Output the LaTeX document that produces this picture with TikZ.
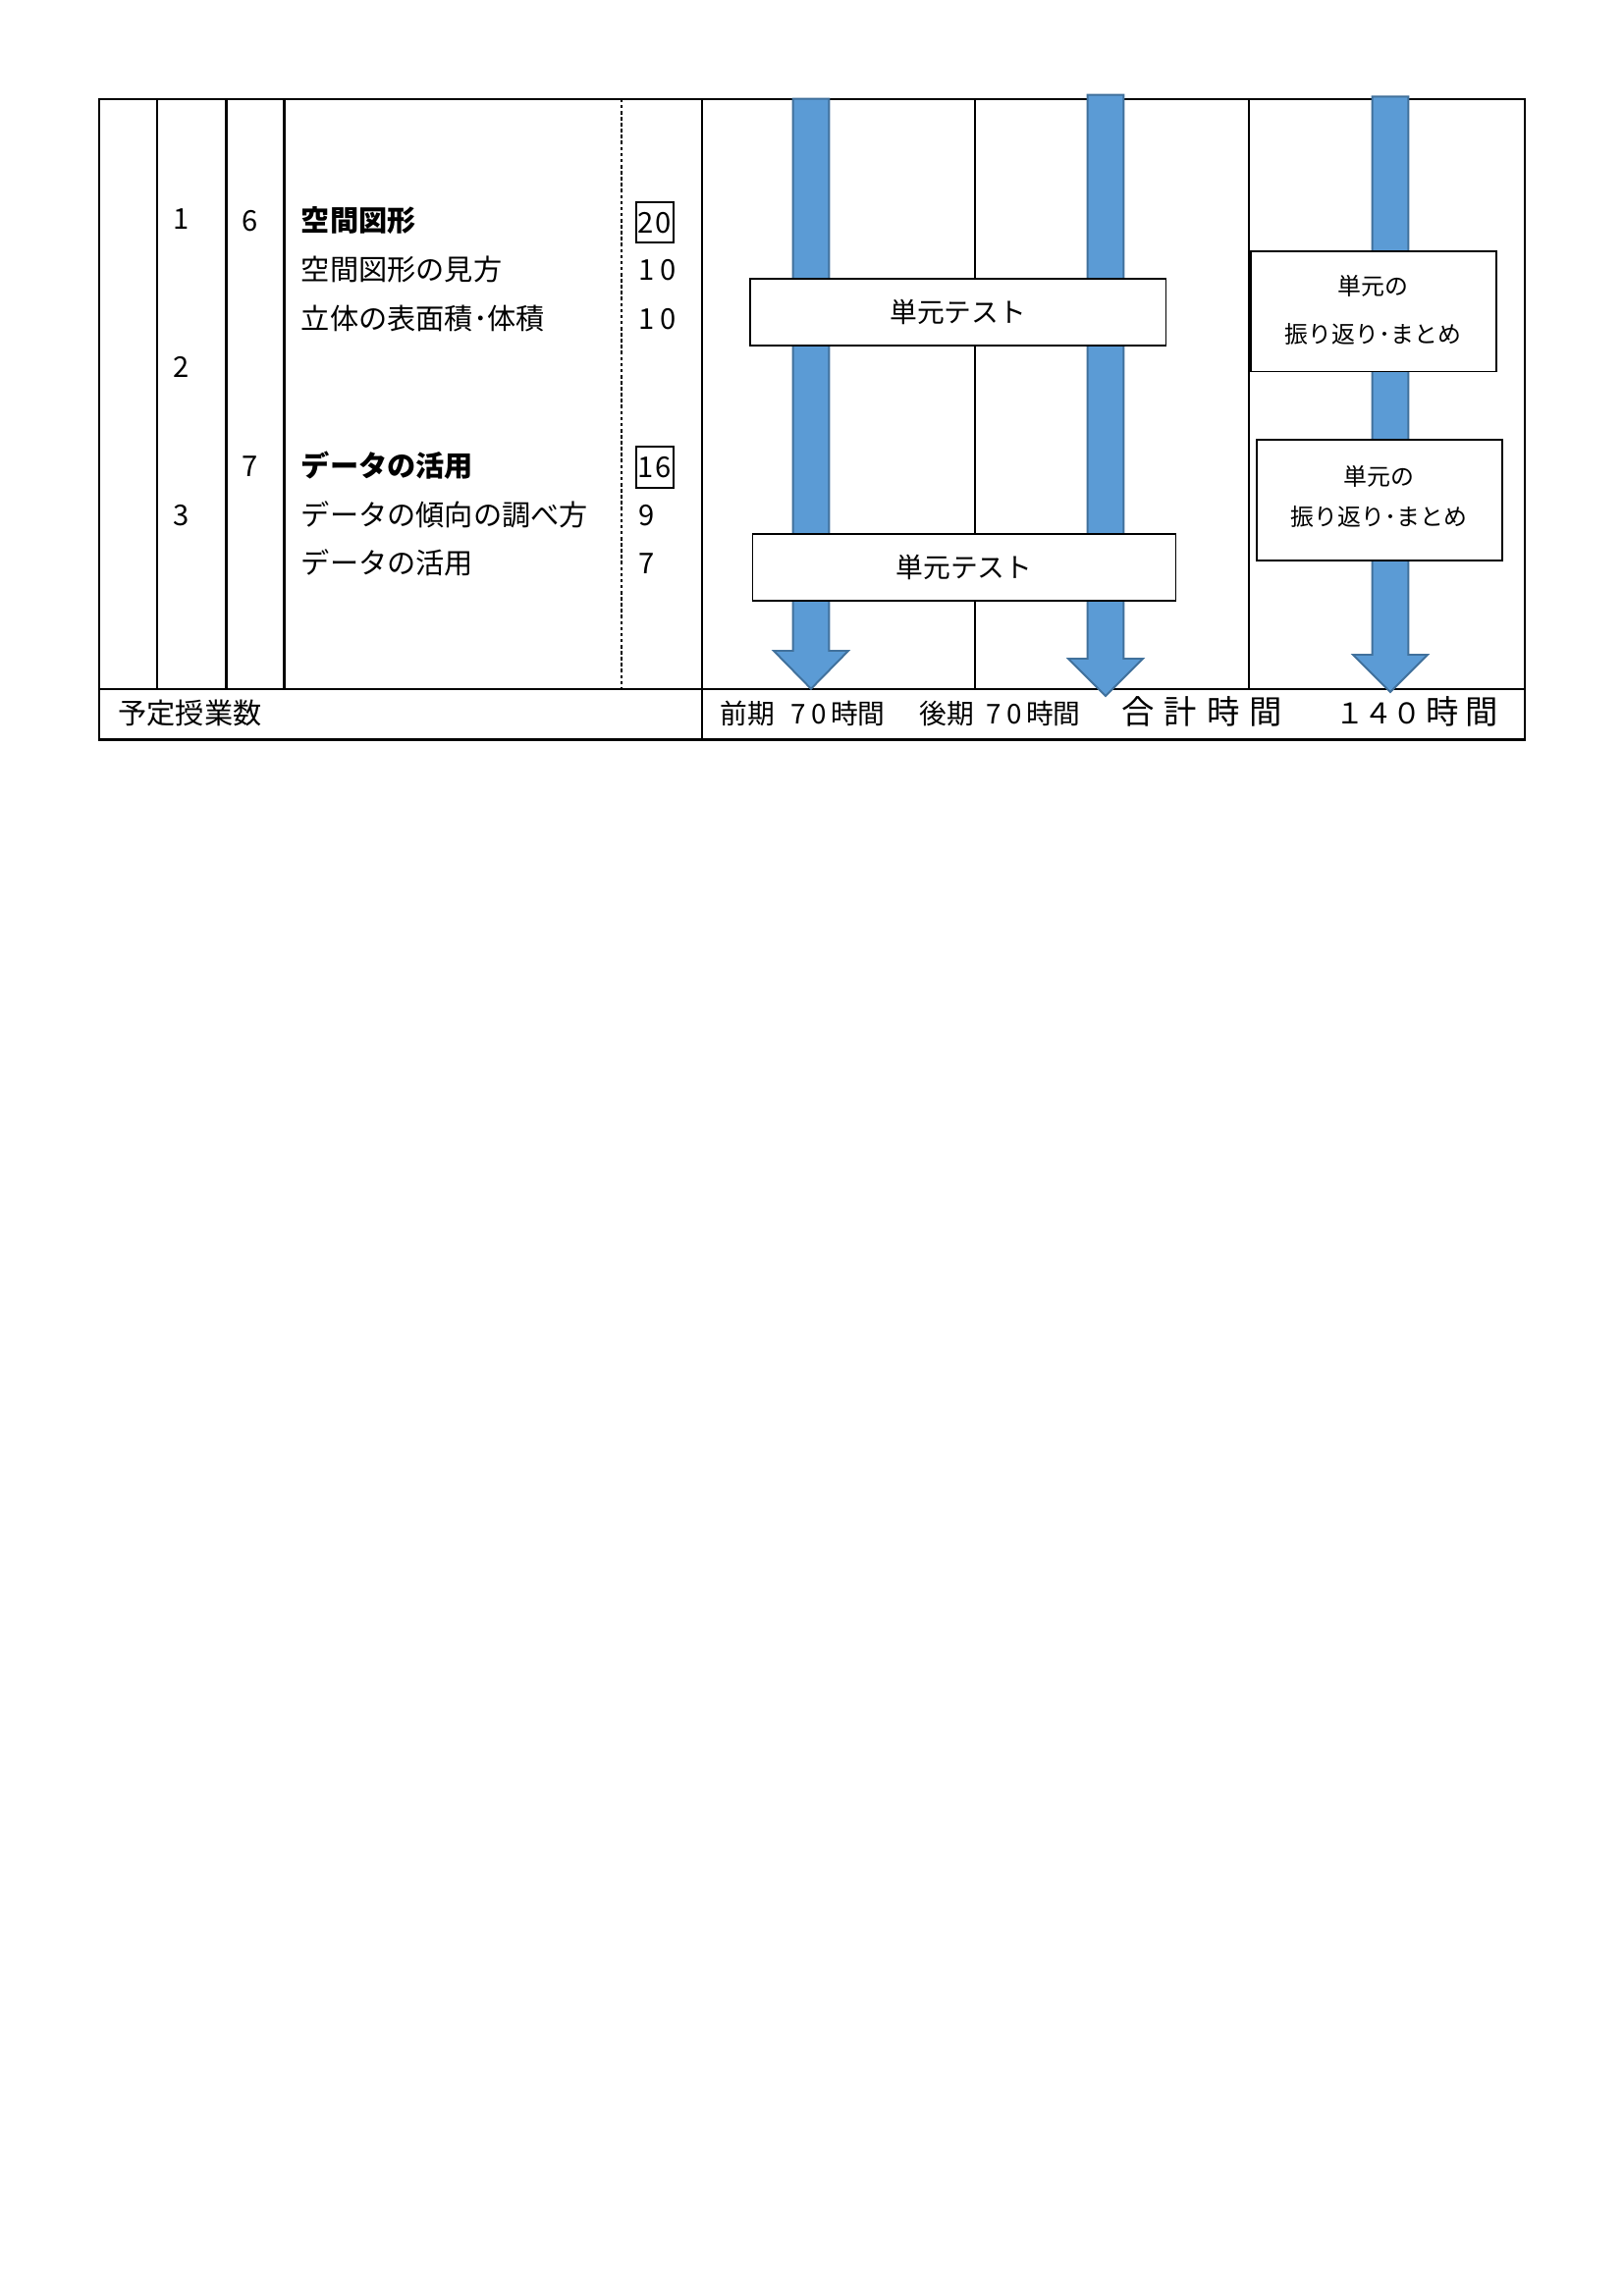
\documentclass[tikz,border=0pt]{standalone}
\usepackage{fontspec}
\newfontfamily\jp{Noto Sans CJK JP}
\definecolor{arrowfill}{HTML}{5B9BD5}
\definecolor{arrowline}{HTML}{41719C}
\begin{document}
\begin{tikzpicture}[x=0.3599pt,y=-0.3599pt,
  tline/.style={line width=0.85pt},
  thick line/.style={line width=1.2pt},
  dashline/.style={line width=0.6pt,dash pattern=on 1.3pt off 0.9pt},
  blockarrow/.style={fill=arrowfill,draw=arrowline,line width=0.7pt,line join=miter},
  box/.style={draw,line width=0.6pt,fill=white,inner sep=0pt,anchor=north west},
  txt/.style={inner sep=0pt,anchor=west,font=\jp\fontsize{10.5}{12}\selectfont,text height=9.2pt,text depth=1.3pt},
  ctxt/.style={txt,anchor=center},
  btxt/.style={txt,font=\jp\bfseries\fontsize{10.5}{12}\selectfont},
  ftxt/.style={txt,font=\jp\fontsize{10}{12}\selectfont},
  stxt/.style={inner sep=0pt,anchor=center,font=\jp\fontsize{8.6}{10}\selectfont,text height=7.6pt,text depth=1.1pt},
  numbox/.style={draw,line width=0.7pt,inner sep=0pt,anchor=center,font=\jp\fontsize{10.5}{12}\selectfont}
]
\useasboundingbox (0,0) rectangle (1654,2339);
\fill[white] (0,0) rectangle (1654,2339);

% table frame
\draw[tline] (100.7,100.7) rectangle (1553,753.5);
\draw[tline] (100.7,701.7) -- (1553,701.7);
\draw[tline] (160.3,100.7) -- (160.3,701.7);
\draw[tline] (230.4,100.7) -- (230.4,701.7);
\draw[thick line] (289.2,100.7) -- (289.2,701.7);
\draw[dashline] (632.8,100.7) -- (632.8,701.7);
\draw[tline] (714.8,100.7) -- (714.8,753.5);
\draw[tline] (992.7,100.7) -- (992.7,701.7);
\draw[tline] (1271.7,100.7) -- (1271.7,701.7);

% block arrows
\filldraw[blockarrow] (807.7,100.7) -- (844.3,100.7) -- (844.3,663) -- (864,663) -- (826,701.7) -- (788,663) -- (807.7,663) -- cycle;
\filldraw[blockarrow] (1107.7,96.7) -- (1144.3,96.7) -- (1144.3,671) -- (1164,671) -- (1126,709) -- (1088,671) -- (1107.7,671) -- cycle;
\filldraw[blockarrow] (1397.7,98.3) -- (1434.3,98.3) -- (1434.3,667) -- (1454,667) -- (1416,705) -- (1378,667) -- (1397.7,667) -- cycle;

% boxes over arrows
\node[box,minimum width={423.4*0.3599pt},minimum height={67.7*0.3599pt}] (test1) at (763.3,283.3) {};
\node[ctxt,font=\jp\fontsize{10}{12}\selectfont] (test1t) at (test1.center) {単元テスト};
\node[box,minimum width={431*0.3599pt},minimum height={67.7*0.3599pt}] (test2) at (765.7,543.3) {};
\node[ctxt,font=\jp\fontsize{10}{12}\selectfont] (test2t) at (test2.center) {単元テスト};
\node[box,minimum width={250*0.3599pt},minimum height={122.7*0.3599pt}] (rev1) at (1273.3,255) {};
\node[stxt] (rev1a) at (1398.3,291.7) {単元の};
\node[stxt] (rev1b) at (1398.3,340) {振り返り･まとめ};
\node[box,minimum width={250*0.3599pt},minimum height={122.7*0.3599pt}] (rev2) at (1279.3,447.3) {};
\node[stxt] (rev2a) at (1404.3,485) {単元の};
\node[stxt] (rev2b) at (1404.3,526.7) {振り返り･まとめ};

% left columns
\node[ctxt] (m1) at (185,223) {1};
\node[ctxt] (m2) at (185,373.5) {2};
\node[ctxt] (m3) at (185,525) {3};
\node[ctxt] (u6) at (254.5,225) {6};
\node[ctxt] (u7) at (254.5,475) {7};

\node[btxt] (h1) at (306.4,225) {空間図形};
\node[txt] (s1) at (306.4,275) {空間図形の見方};
\node[txt] (s2) at (306.4,324.3) {立体の表面積･体積};
\node[btxt] (h2) at (306.4,475) {データの活用};
\node[txt] (s3) at (306.4,524.5) {データの傾向の調べ方};
\node[txt] (s4) at (306.4,573.5) {データの活用};

\node[numbox,minimum width={38.8*0.3599pt},minimum height={40.3*0.3599pt}] (c1) at (667,226.6) {2\hspace{0.6pt}0};
\node[txt] (c2) at (650,275) {1\hspace{2pt}0};
\node[txt] (c3) at (650,324.3) {1\hspace{2pt}0};
\node[numbox,minimum width={38.8*0.3599pt},minimum height={41.7*0.3599pt}] (c4) at (667,476.3) {1\hspace{0.6pt}6};
\node[txt] (c5) at (650,524.5) {9};
\node[txt] (c6) at (650,573.5) {7};

% footer
\node[txt] (f0) at (120,727) {予定授業数};
\node[ftxt] (f1) at (733,727) {前期};
\node[ftxt] (f2) at (805,727) {7\hspace{2pt}0\hspace{1.5pt}時間};
\node[ftxt] (f3) at (936,727) {後期};
\node[ftxt] (f4) at (1004,727) {7\hspace{2pt}0\hspace{1.5pt}時間};
\node[txt,font=\jp\fontsize{12}{13}\selectfont] (f5) at (1142,727) {合\hspace{3.6pt}計\hspace{3.6pt}時\hspace{3.6pt}間};
\node[txt,font=\jp\fontsize{10.5}{12}\selectfont] (f6) at (1360,727) {１４０\hspace{1.5pt}{\fontsize{12}{13}\selectfont 時\hspace{2.5pt}間}};
\end{tikzpicture}
\end{document}
